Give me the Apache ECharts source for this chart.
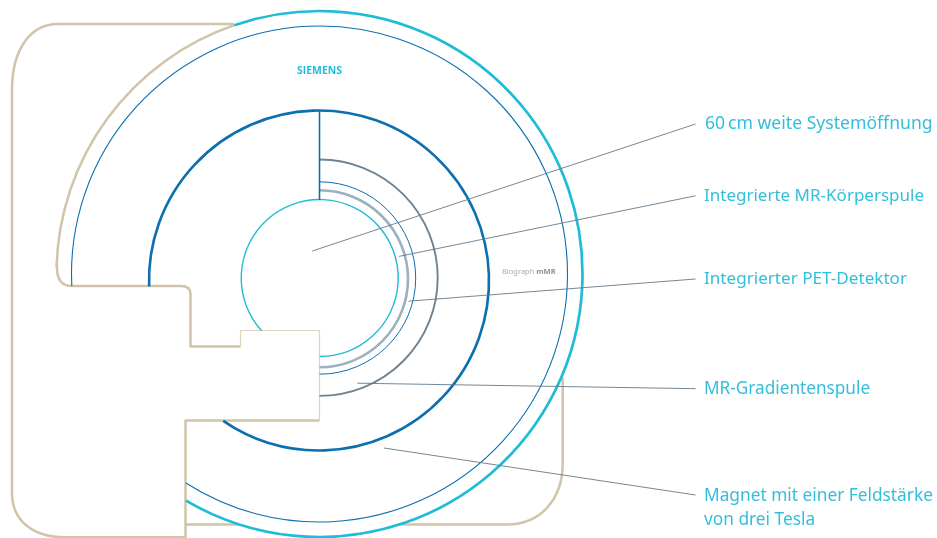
<!DOCTYPE html>
<html>
<head>
<meta charset="utf-8">
<style>html,body{margin:0;padding:0;background:#fff}#c{width:937px;height:538px}</style>
<script src="https://cdn.jsdelivr.net/npm/echarts@6/dist/echarts.min.js"></script>
</head>
<body>
<div id="c"></div>
<script>
// Arcs: [centre x, centre y, radius, start angle, end angle] (degrees, clockwise from +x)
var outerCyanArc = [[319.5, 274, 263, 251.1, 480.5]];
var outerBeigeArc = [[319.5, 274, 263, 181.5, 251.1]];
var outerBlueArc = [[319.5, 274, 248, 177.2, 482.6]];
var magnetArc = [[319, 280.5, 170, 178, 484.3]];
var boreArc = [[319.7, 278, 78.5, 137.7, 450]];
var bodyCoilArc = [[319.5, 278, 96.2, -90, 90]];
var petArc = [[319.5, 278.8, 88.5, -90, 90]];
var gradientArc = [[319.5, 277.7, 118.2, -90, 90]];
// Straight parts: [x1, y1, x2, y2]
var spine = [[319.5, 111, 319.5, 200]];
var leaders = [
  [312.3, 251, 695.5, 124],
  [399, 256.4, 695.5, 195.8],
  [408.4, 301.2, 695.5, 279],
  [357.3, 383.2, 695.5, 388.7],
  [384, 448, 695.5, 495]
];
var housingThin = [[319.5, 420.5, 319.5, 330.5], [319.5, 330.5, 240.5, 330.5], [240.5, 330.5, 240.5, 346.5]];
var housingBase = [[186, 524.4, 238, 524.4]];
// Outline paths: command, then coordinate pairs
var housingLeft = [
  ['M', 234, 24], ['L', 58, 24], ['C', 30, 24, 12, 50, 12, 90], ['L', 12, 493],
  ['C', 12, 520, 32, 537.3, 65, 537.3], ['L', 185.5, 537.3], ['L', 185.5, 420.5], ['L', 319.5, 420.5]
];
var housingArm = [
  ['M', 240.5, 346.5], ['L', 190.5, 346.5], ['L', 190.5, 294], ['C', 190.5, 288, 187, 286, 181, 286],
  ['L', 72, 286], ['C', 62, 286, 57, 280, 57, 268], ['L', 56.8, 262]
];
var housingRight = [
  ['M', 562.7, 378], ['L', 562.7, 463], ['C', 562.7, 500, 540, 524.4, 507, 524.4], ['L', 400, 524.4]
];
// Text
var calloutTexts = ['60\u2009cm weite Systemöffnung', 'Integrierte MR-Körperspule', 'Integrierter PET-Detektor', 'MR-Gradientenspule', 'Magnet mit einer Feldstärke', 'von drei Tesla'];
var calloutAnchors = [[705, 124], [704, 196], [704, 279], [704, 389], [704, 496], [704, 520]];
var calloutSizes = [17.6, 17, 17.1, 17.2, 17.3, 17.3];
var brandText = ['SIEMENS'];
var brandAnchor = [[319.5, 71]];
var modelText = ['{a|Biograph} {b|mMR}'];
var modelAnchor = [[502, 272]];

var cyan = '#1fbcd6', blue = '#0b6fb0', beige = '#d0c5a9', beigeLight = '#dcd4bf',
    slate = '#6f8391', mist = '#9bb0c0', leaderColor = '#64798a', textCyan = '#33bedb';

function arcSeries(data, color, width, z) {
  return {
    type: 'custom', coordinateSystem: 'cartesian2d', data: data, z: z || 3, silent: true, clip: false,
    renderItem: function (p, api) {
      var c = api.coord([api.value(0), api.value(1)]);
      var r = api.size([api.value(2), 0])[0];
      return {
        type: 'arc',
        shape: { cx: c[0], cy: c[1], r: r, startAngle: api.value(3) * Math.PI / 180, endAngle: api.value(4) * Math.PI / 180, clockwise: true },
        style: { stroke: color, lineWidth: width, fill: 'none' }
      };
    }
  };
}
function segSeries(data, color, width, z) {
  return {
    type: 'custom', coordinateSystem: 'cartesian2d', data: data, z: z || 3, silent: true, clip: false,
    renderItem: function (p, api) {
      var a = api.coord([api.value(0), api.value(1)]);
      var b = api.coord([api.value(2), api.value(3)]);
      return {
        type: 'line', shape: { x1: a[0], y1: a[1], x2: b[0], y2: b[1] },
        style: { stroke: color, lineWidth: width }
      };
    }
  };
}
function pathSeries(cmds, color, width, z) {
  return {
    type: 'custom', coordinateSystem: 'cartesian2d', data: [[0, 0]], z: z || 2, silent: true, clip: false,
    renderItem: function (p, api) {
      var d = cmds.map(function (c) {
        var s = c[0];
        for (var i = 1; i < c.length; i += 2) {
          var q = api.coord([c[i], c[i + 1]]);
          s += ' ' + q[0] + ' ' + q[1];
        }
        return s;
      }).join(' ');
      return { type: 'path', shape: { pathData: d }, style: { stroke: color, lineWidth: width, fill: 'none', lineJoin: 'round' } };
    }
  };
}
function textSeries(anchors, texts, style, sizes) {
  return {
    type: 'custom', coordinateSystem: 'cartesian2d', data: anchors, z: 5, silent: true, clip: false,
    renderItem: function (p, api) {
      var c = api.coord([api.value(0), api.value(1)]);
      var own = sizes ? { fontSize: sizes[p.dataIndex] } : {};
      return {
        type: 'text', x: c[0], y: c[1],
        style: Object.assign({ text: texts[p.dataIndex], verticalAlign: 'middle' }, style, own)
      };
    }
  };
}

var chart = echarts.init(document.getElementById('c'), null, { renderer: 'canvas' });
chart.setOption({
  animation: false,
  backgroundColor: '#ffffff',
  grid: { left: 0, right: 0, top: 0, bottom: 0 },
  xAxis: { type: 'value', min: 0, max: 937, show: false },
  yAxis: { type: 'value', min: 0, max: 538, inverse: true, show: false },
  series: [
    pathSeries(housingLeft, beige, 2.5),
    pathSeries(housingArm, beige, 2.5),
    pathSeries(housingRight, beige, 2.5),
    segSeries(housingBase, beige, 2.5, 2),
    segSeries(housingThin, beigeLight, 1.2, 2),
    arcSeries(outerBeigeArc, beige, 2.5, 2),
    arcSeries(outerCyanArc, cyan, 2.7),
    arcSeries(outerBlueArc, blue, 1.1),
    arcSeries(magnetArc, blue, 2.6),
    arcSeries(boreArc, cyan, 1.4),
    arcSeries(bodyCoilArc, blue, 1),
    arcSeries(petArc, mist, 2.6),
    arcSeries(gradientArc, slate, 1.9),
    segSeries(spine, blue, 1.6),
    segSeries(leaders, leaderColor, 0.9, 4),
    textSeries(calloutAnchors, calloutTexts, { fill: textCyan, fontFamily: 'Noto Sans', fontSize: 17, align: 'left' }, calloutSizes),
    textSeries(brandAnchor, brandText, { fill: cyan, fontFamily: 'Open Sans', fontSize: 10.4, fontWeight: 'bold', align: 'center' }),
    textSeries(modelAnchor, modelText, {
      align: 'left', fill: '#9aa5ad', fontFamily: 'Noto Sans', fontSize: 7.5,
      rich: { a: { fill: '#a3adb4', fontFamily: 'Noto Sans', fontSize: 7.5 }, b: { fill: '#87939b', fontFamily: 'Noto Sans', fontSize: 7.5, fontWeight: 'bold' } }
    })
  ]
});
</script>
</body>
</html>
